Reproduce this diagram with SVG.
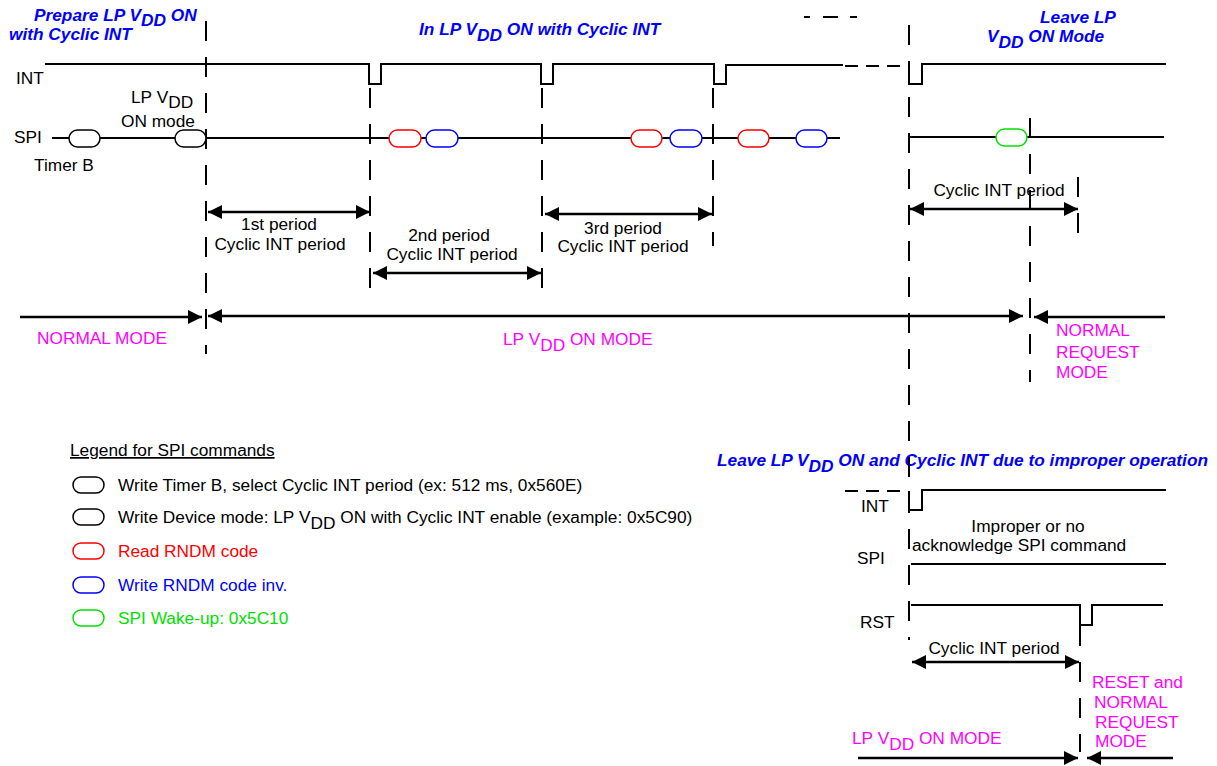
<svg xmlns="http://www.w3.org/2000/svg" width="1217" height="766" viewBox="0 0 1217 766">
<defs>
<style>
.t{font-family:"Liberation Sans",Arial,sans-serif;font-size:17.3px;fill:#000}
.h{font-weight:bold;font-style:italic;fill:#0000ff}
.m{fill:#ff00ff}
.r{fill:#ff0000}
.b{fill:#0000ff}
.g{fill:#00e000}
.sig{stroke:#000;stroke-width:2;fill:none}
.dsig{stroke:#000;stroke-width:2;fill:none;stroke-dasharray:13 8}
.dash{stroke:#000;stroke-width:2;fill:none;stroke-dasharray:20 16}
.arr{stroke:#000;stroke-width:2.5;fill:none}
.pk{fill:#fff;stroke:#000;stroke-width:1.5}
.pr{fill:#fff;stroke:#ff0000;stroke-width:1.5}
.pb{fill:#fff;stroke:#0000ff;stroke-width:1.5}
.pg{fill:#fff;stroke:#00e000;stroke-width:1.5}
</style>
<marker id="ah" viewBox="0 0 14 14" refX="14" refY="7" markerWidth="14" markerHeight="14" markerUnits="userSpaceOnUse" orient="auto-start-reverse">
<path d="M0,0 L14,7 L0,14 z" fill="#000"/>
</marker>
</defs>
<rect width="1217" height="766" fill="#fff"/>

<g id="titles">
<text class="t h" x="34" y="21">Prepare LP V<tspan dy="5">DD</tspan><tspan dy="-5"> ON</tspan></text>
<text class="t h" x="9" y="40">with Cyclic INT</text>
<text class="t h" x="419" y="35">In LP V<tspan dy="6">DD</tspan><tspan dy="-6"> ON with Cyclic INT</tspan></text>
<text class="t h" x="1040" y="23">Leave LP</text>
<text class="t h" x="987" y="42">V<tspan dy="6">DD</tspan><tspan dy="-6"> ON Mode</tspan></text>
<text class="t h" x="717" y="466">Leave LP V<tspan dy="6">DD</tspan><tspan dy="-6"> ON and Cyclic INT due to improper operation</tspan></text>
</g>

<g id="guides">
<line class="dash" x1="206" y1="21" x2="206" y2="354"/>
<line class="dash" x1="370" y1="88" x2="370" y2="304"/>
<line class="dash" x1="542" y1="88" x2="542" y2="304"/>
<line class="dash" x1="713" y1="88" x2="713" y2="246"/>
<line class="dash" x1="909" y1="25" x2="909" y2="640"/>
<line class="dash" x1="1030" y1="118" x2="1030" y2="382"/>
<line class="dash" x1="1078" y1="177" x2="1078" y2="246"/>
<line class="dash" x1="1080" y1="626" x2="1080" y2="752"/>
</g>

<g id="signal-labels">
<text class="t" x="16" y="84">INT</text>
<text class="t" x="14" y="143">SPI</text>
<text class="t" x="34" y="171">Timer B</text>
<text class="t" x="131" y="103">LP V<tspan dy="5">DD</tspan></text>
<text class="t" x="121" y="127">ON mode</text>
<text class="t" x="861" y="512">INT</text>
<text class="t" x="857" y="564">SPI</text>
<text class="t" x="860" y="628">RST</text>
<text class="t" x="1028" y="532" text-anchor="middle">Improper or no</text>
<text class="t" x="912" y="551">acknowledge SPI command</text>
</g>

<g id="int-signal">
<path class="sig" d="M45,64 H369 V84 H381 V64 H541 V84 H553 V64 H714 V84 H726 V65 H843"/>
<path class="dsig" d="M845,66 H906"/>
<path class="sig" d="M909,66 V84 H922 V64 H1166"/>
<path class="sig" d="M804,17 H810 M823,17 H838 M850,17 H857"/>
</g>

<g id="spi-signal">
<line class="sig" x1="52" y1="138" x2="840" y2="138"/>
<line class="sig" x1="909" y1="137" x2="1164" y2="137"/>
</g>

<g id="cmd-timerb"><rect class="pk" x="69" y="130" width="31" height="17" rx="8.5"/></g>
<g id="cmd-devmode"><rect class="pk" x="175" y="130" width="31" height="17" rx="8.5"/></g>
<g id="cmd-read1"><rect class="pr" x="389" y="130" width="32" height="17" rx="8.5"/></g>
<g id="cmd-write1"><rect class="pb" x="426" y="130" width="32" height="17" rx="8.5"/></g>
<g id="cmd-read2"><rect class="pr" x="631" y="130" width="31" height="17" rx="8.5"/></g>
<g id="cmd-write2"><rect class="pb" x="670" y="130" width="32" height="17" rx="8.5"/></g>
<g id="cmd-read3"><rect class="pr" x="738" y="130" width="31" height="17" rx="8.5"/></g>
<g id="cmd-write3"><rect class="pb" x="796" y="130" width="31" height="17" rx="8.5"/></g>
<g id="cmd-wakeup"><rect class="pg" x="996" y="129" width="31" height="17" rx="8.5"/></g>

<g id="bottom-signals">
<path class="dsig" d="M845,491 H905"/>
<path class="sig" d="M909,491 V510 H922 V490 H1166"/>
<line class="sig" x1="911" y1="564" x2="1166" y2="564"/>
<path class="sig" d="M911,605 H1080 V625 H1092 V605 H1163"/>
</g>

<g id="connectors">
<line class="arr" x1="208" y1="212" x2="370" y2="212" marker-start="url(#ah)" marker-end="url(#ah)"/>
<line class="arr" x1="373" y1="273" x2="541" y2="273" marker-start="url(#ah)" marker-end="url(#ah)"/>
<line class="arr" x1="545" y1="214" x2="712" y2="214" marker-start="url(#ah)" marker-end="url(#ah)"/>
<line class="arr" x1="910" y1="209" x2="1078" y2="209" marker-start="url(#ah)" marker-end="url(#ah)"/>
<line class="arr" x1="912" y1="662" x2="1079" y2="662" marker-start="url(#ah)" marker-end="url(#ah)"/>
<line class="arr" x1="20" y1="317" x2="202" y2="317" marker-end="url(#ah)"/>
<line class="arr" x1="208" y1="316" x2="1023" y2="316" marker-start="url(#ah)" marker-end="url(#ah)"/>
<line class="arr" x1="1034" y1="317" x2="1165" y2="317" marker-start="url(#ah)"/>
<line class="arr" x1="858" y1="758" x2="1078" y2="758" marker-end="url(#ah)"/>
<line class="arr" x1="1087" y1="758" x2="1173" y2="758" marker-start="url(#ah)"/>
</g>

<g id="period-labels">
<text class="t" x="279" y="230" text-anchor="middle">1st period</text>
<text class="t" x="280" y="250" text-anchor="middle">Cyclic INT period</text>
<text class="t" x="449" y="241" text-anchor="middle">2nd period</text>
<text class="t" x="452" y="260" text-anchor="middle">Cyclic INT period</text>
<text class="t" x="623" y="234" text-anchor="middle">3rd period</text>
<text class="t" x="623" y="252" text-anchor="middle">Cyclic INT period</text>
<text class="t" x="999" y="196" text-anchor="middle">Cyclic INT period</text>
<text class="t" x="994" y="654" text-anchor="middle">Cyclic INT period</text>
</g>

<g id="mode-labels">
<text class="t m" x="37" y="344">NORMAL MODE</text>
<text class="t m" x="503" y="345">LP V<tspan dy="6">DD</tspan><tspan dy="-6"> ON MODE</tspan></text>
<text class="t m" x="1056" y="336">NORMAL</text>
<text class="t m" x="1056" y="358">REQUEST</text>
<text class="t m" x="1056" y="378">MODE</text>
<text class="t m" x="1092" y="688">RESET and</text>
<text class="t m" x="1094" y="708">NORMAL</text>
<text class="t m" x="1095" y="728">REQUEST</text>
<text class="t m" x="1095" y="747">MODE</text>
<text class="t m" x="852" y="744">LP V<tspan dy="6">DD</tspan><tspan dy="-6"> ON MODE</tspan></text>
</g>

<g id="legend">
<text class="t" x="70" y="456" text-decoration="underline">Legend for SPI commands</text>
<rect class="pk" x="73" y="477" width="31" height="16" rx="8"/>
<text class="t" x="118" y="491">Write Timer B, select Cyclic INT period (ex: 512 ms, 0x560E)</text>
<rect class="pk" x="73" y="509" width="31" height="16" rx="8"/>
<text class="t" x="118" y="523">Write Device mode: LP V<tspan dy="6">DD</tspan><tspan dy="-6"> ON with Cyclic INT enable (example: 0x5C90)</tspan></text>
<rect class="pr" x="73" y="543" width="31" height="16" rx="8"/>
<text class="t r" x="118" y="557">Read RNDM code</text>
<rect class="pb" x="73" y="577" width="31" height="16" rx="8"/>
<text class="t b" x="118" y="591">Write RNDM code inv.</text>
<rect class="pg" x="73" y="610" width="31" height="16" rx="8"/>
<text class="t g" x="118" y="624">SPI Wake-up: 0x5C10</text>
</g>
</svg>
